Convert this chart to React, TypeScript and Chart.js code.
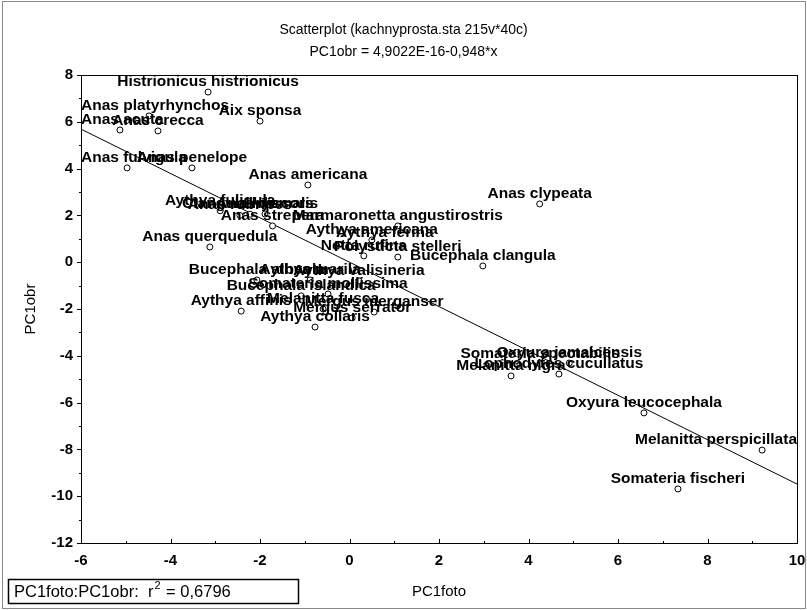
import { useEffect, useRef } from "react";
import { Chart, registerables } from "chart.js";

Chart.register(...registerables);

// Species (cases) with their scores on the two first principal components
const species = [
  "Histrionicus histrionicus",
  "Anas platyrhynchos",
  "Aix sponsa",
  "Anas acuta",
  "Anas crecca",
  "Anas fulvigula",
  "Anas penelope",
  "Anas americana",
  "Anas clypeata",
  "Aythya fuligula",
  "Anas discors",
  "Anas rubripes",
  "Clangula hyemalis",
  "Anas strepera",
  "Marmaronetta angustirostris",
  "Aythya americana",
  "Aythya ferina",
  "Netta rufina",
  "Polysticta stelleri",
  "Bucephala clangula",
  "Anas querquedula",
  "Bucephala albeola",
  "Aythya marila",
  "Aythya valisineria",
  "Bucephala islandica",
  "Somateria mollissima",
  "Aythya affinis",
  "Melanitta fusca",
  "Mergus merganser",
  "Mergus serrator",
  "Aythya collaris",
  "Somateria spectabilis",
  "Oxyura jamaicensis",
  "Melanitta nigra",
  "Lophodytes cucullatus",
  "Oxyura leucocephala",
  "Melanitta perspicillata",
  "Somateria fischeri",
];

const pc1foto = [
  -3.16, -4.48, -2.0, -5.13, -4.28, -4.97, -3.52, -0.93, 4.25, -2.89,
  -1.89, -2.45, -2.22, -1.72, 1.08, 0.5, 0.79, 0.32, 1.08, 2.98,
  -3.12, -2.07, -0.88, 0.21, -1.08, -0.48, -2.42, -0.59, 0.55, 0.06,
  -0.77, 4.26, 4.91, 3.61, 4.68, 6.58, 9.22, 7.34,
];

const pc1obr = [
  7.27, 6.25, 6.03, 5.65, 5.61, 4.03, 4.03, 3.3, 2.49, 2.2,
  2.06, 2.0, 2.05, 1.55, 1.55, 0.95, 0.8, 0.27, 0.22, -0.16,
  0.65, -0.76, -0.76, -0.8, -1.44, -1.36, -2.09, -2.0, -2.13, -2.38,
  -2.77, -4.35, -4.31, -4.86, -4.78, -6.44, -8.03, -9.69,
];

// Fitted line PC1obr = a + b * PC1foto
const intercept = 4.9022e-16;
const slope = -0.948;
const rSquared = "0,6796";

const xRange = [-6, 10];
const yRange = [-12, 8];
const tickStep = 2;

const titleText = "Scatterplot (kachnyprosta.sta 215v*40c)";
const subtitleText = "PC1obr = 4,9022E-16-0,948*x";
const xTitle = "PC1foto";
const yTitle = "PC1obr";
const fitLegend = "PC1foto:PC1obr:  r";

const SANS = '"Liberation Sans", Arial, sans-serif';
const NARROW = '"Liberation Sans Narrow", "Liberation Sans", Arial, sans-serif';

const decorations = {
  id: "decorations",
  afterDatasetsDraw(chart: any) {
    const { ctx, chartArea: a, scales } = chart;
    const xs = scales.x;
    const ys = scales.y;
    ctx.save();
    ctx.strokeStyle = "#000";
    ctx.lineWidth = 1;

    // plot frame
    ctx.strokeRect(
      Math.round(a.left) + 0.5,
      Math.round(a.top) + 0.5,
      Math.round(a.right - a.left),
      Math.round(a.bottom - a.top)
    );

    // major / minor tick marks
    ctx.beginPath();
    for (let v = xRange[0]; v <= xRange[1]; v += 1) {
      const px = Math.round(xs.getPixelForValue(v)) + 0.5;
      const len = v % tickStep === 0 ? 4 : 2;
      ctx.moveTo(px, a.bottom);
      ctx.lineTo(px, a.bottom - len);
    }
    for (let v = yRange[0]; v <= yRange[1]; v += 1) {
      const py = Math.round(ys.getPixelForValue(v)) + 0.5;
      const len = v % tickStep === 0 ? 4 : 2;
      ctx.moveTo(a.left - len, py);
      ctx.lineTo(a.left, py);
    }
    ctx.stroke();

    // point labels, centred above each marker, kept inside the plot area
    const meta = chart.getDatasetMeta(0);
    ctx.fillStyle = "#000";
    ctx.font = `bold 15.5px ${SANS}`;
    ctx.textBaseline = "alphabetic";
    meta.data.forEach((pt: any, i: number) => {
      const text = species[i];
      const w = ctx.measureText(text).width;
      let left = pt.x - w / 2;
      if (left < a.left) left = a.left;
      if (left + w > a.right) left = a.right - w;
      ctx.fillText(text, left, pt.y - 6);
    });
    ctx.restore();
  },
  afterDraw(chart: any) {
    const { ctx, width, height } = chart;
    ctx.save();
    // outer frame of the graph window
    ctx.strokeStyle = "#8a8a8a";
    ctx.lineWidth = 1;
    ctx.strokeRect(2.5, 1.5, width - 4, height - 3);

    // fit statistics box
    ctx.strokeStyle = "#000";
    ctx.lineWidth = 1.5;
    ctx.strokeRect(8.5, 579.5, 290, 24);
    ctx.fillStyle = "#000";
    ctx.textBaseline = "alphabetic";
    ctx.font = `16.5px ${NARROW}`;
    let x = 14;
    ctx.fillText(fitLegend, x, 597);
    x += ctx.measureText(fitLegend).width + 1;
    ctx.font = `11px ${NARROW}`;
    ctx.fillText("2", x, 589);
    x += ctx.measureText("2").width + 1;
    ctx.font = `16.5px ${NARROW}`;
    ctx.fillText(` = ${rSquared}`, x, 597);
    ctx.restore();
  },
};

export default function App() {
  const canvasRef = useRef<HTMLCanvasElement | null>(null);

  useEffect(() => {
    const canvas = canvasRef.current;
    if (!canvas) return;

    const points = pc1foto.map((v, i) => ({ x: v, y: pc1obr[i] }));
    const fitLine = xRange.map((v) => ({ x: v, y: intercept + slope * v }));

    const chart = new Chart(canvas, {
      type: "scatter",
      data: {
        datasets: [
          {
            label: "cases",
            data: points,
            pointStyle: "circle",
            pointRadius: 3,
            pointBorderWidth: 1,
            pointBorderColor: "#000",
            pointBackgroundColor: "#fff",
          },
          {
            label: "fit",
            data: fitLine,
            showLine: true,
            borderColor: "#000",
            borderWidth: 1,
            pointRadius: 0,
          },
        ],
      },
      options: {
        animation: false,
        responsive: false,
        devicePixelRatio: 1,
        color: "#000",
        font: { family: SANS },
        layout: { padding: { left: 0, right: 0, top: 0, bottom: 0 } },
        plugins: {
          legend: { display: false },
          tooltip: { enabled: false },
          title: {
            display: true,
            text: titleText,
            color: "#000",
            font: { family: NARROW, size: 14, weight: "normal", lineHeight: "16px" },
            padding: { top: 22, bottom: 6 },
          },
          subtitle: {
            display: true,
            text: subtitleText,
            color: "#000",
            font: { family: NARROW, size: 14, weight: "normal", lineHeight: "16px" },
            padding: { top: 0, bottom: 15 },
          },
        },
        scales: {
          x: {
            type: "linear",
            position: "bottom",
            min: xRange[0],
            max: xRange[1],
            grid: { display: false, drawTicks: false },
            border: { display: false },
            ticks: {
              stepSize: tickStep,
              color: "#000",
              padding: 9,
              font: { family: SANS, size: 15, weight: "bold" },
            },
            title: {
              display: true,
              text: xTitle,
              color: "#000",
              font: { family: NARROW, size: 15, lineHeight: "17px" },
              padding: { top: 0, bottom: 10 },
            },
            afterFit: (s: any) => {
              s.height = 67;
              s.paddingRight = 10;
            },
          },
          y: {
            type: "linear",
            min: yRange[0],
            max: yRange[1],
            grid: { display: false, drawTicks: false },
            border: { display: false },
            ticks: {
              stepSize: tickStep,
              color: "#000",
              padding: 8,
              font: { family: SANS, size: 15, weight: "bold" },
            },
            title: {
              display: true,
              text: yTitle,
              color: "#000",
              font: { family: SANS, size: 15, lineHeight: "17px" },
              padding: { top: 22, bottom: 0 },
            },
            afterFit: (s: any) => {
              s.width = 81;
            },
          },
        },
      },
      plugins: [decorations],
    });

    return () => chart.destroy();
  }, []);

  return (
    <div style={{ position: "absolute", left: 0, top: 0, width: 807, height: 610, background: "#fff" }}>
      <canvas ref={canvasRef} width={807} height={610} />
    </div>
  );
}
